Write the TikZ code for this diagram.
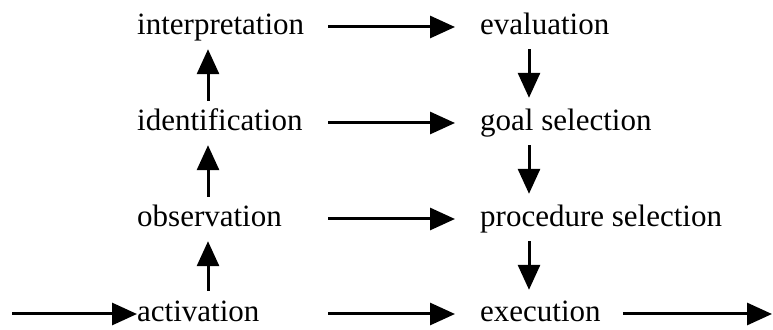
\documentclass[tikz,border=0pt]{standalone}
\usepackage{fontspec}
\setmainfont{Liberation Serif}
\usetikzlibrary{arrows.meta}
\begin{document}
\begin{tikzpicture}[x=1pt,y=1pt,
  stage/.style={anchor=base west, inner sep=0pt, text height=22pt, text depth=6pt,
    font=\fontsize{31}{36}\selectfont},
  lowstage/.style={stage, text height=19pt, text depth=3pt},
  flow/.style={line width=3pt, -{Triangle[length=25pt,width=22pt]}},
  upflow/.style={flow, shorten <=8pt, shorten >=8pt},
  downflow/.style={flow, shorten <=8pt, shorten >=11pt}]
\useasboundingbox (0,0) rectangle (773,329);

% perception column (left)
\node[stage]    (interp) at (137,294) {interpretation};
\node[stage]    (ident)  at (137,198) {identification};
\node[stage]    (obs)    at (137,102) {observation};
\node[lowstage] (act)    at (137,7)   {activation};

% action column (right)
\node[stage]    (eval) at (480,294) {evaluation};
\node[stage]    (goal) at (480,198) {goal selection};
\node[stage]    (proc) at (480,102) {procedure selection};
\node[lowstage] (exec) at (480,7)   {execution};

\coordinate (entry)  at (12,0);
\coordinate (exitpt) at (772,0);

% upward flow on the left
\draw[upflow, shorten <=12pt] ([xshift=71pt]act.north west) -- ([xshift=71pt]obs.south west);
\draw[upflow] ([xshift=71pt]obs.north west)   -- ([xshift=71pt]ident.south west);
\draw[upflow] ([xshift=71pt]ident.north west) -- ([xshift=71pt]interp.south west);

% downward flow on the right
\draw[downflow] ([xshift=49pt]eval.south west) -- ([xshift=49pt]goal.north west);
\draw[downflow] ([xshift=49pt]goal.south west) -- ([xshift=49pt]proc.north west);
\draw[downflow, shorten >=13pt] ([xshift=49pt]proc.south west) -- ([xshift=49pt]exec.north west);

% shortcuts between the columns
\draw[flow] ([xshift=191pt]interp.west) -- ([xshift=-25pt]eval.west);
\draw[flow] ([xshift=191pt]ident.west)  -- ([xshift=-25pt]goal.west);
\draw[flow] ([xshift=191pt]obs.west)    -- ([xshift=-25pt]proc.west);
\draw[flow] ([xshift=191pt]act.west)    -- ([xshift=-25pt]exec.west);

% input and output
\draw[flow] (act.west -| entry) -- (act.west);
\draw[flow] ([xshift=22pt]exec.east) -- (exec.east -| exitpt);
\end{tikzpicture}
\end{document}
